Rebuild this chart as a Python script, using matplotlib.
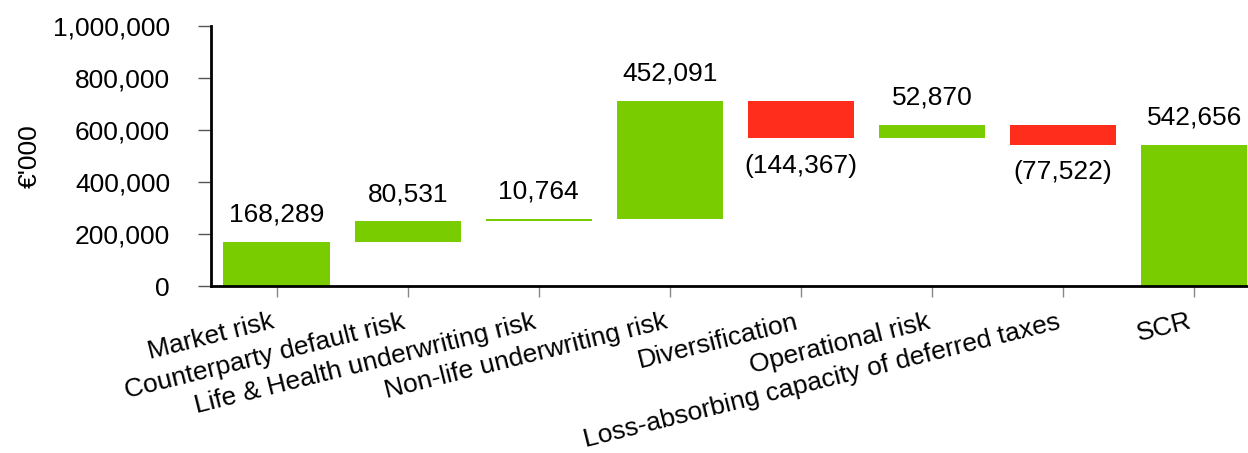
import numpy as np
import matplotlib
matplotlib.use('Agg')
import matplotlib.pyplot as plt
import matplotlib.transforms as mtransforms
from matplotlib.ticker import FuncFormatter

plt.rcParams['font.family'] = ['Liberation Sans', 'DejaVu Sans']

categories = ["Market risk", "Counterparty default risk", "Life & Health underwriting risk",
              "Non-life underwriting risk", "Diversification", "Operational risk",
              "Loss-absorbing capacity of deferred taxes", "SCR"]
values = [168289, 80531, 10764, 452091, -144367, 52870, -77522, 542656]
is_total = [False, False, False, False, False, False, False, True]

green = "#78cc00"
red = "#ff2d1c"

bottoms, heights, colors = [], [], []
running = 0
for v, tot in zip(values, is_total):
    if tot:
        bottoms.append(0)
        heights.append(v)
        colors.append(green)
        running = v
    else:
        start = running
        running += v
        bottoms.append(min(start, running))
        heights.append(abs(v))
        colors.append(green if v >= 0 else red)

x = np.arange(len(categories))

fig = plt.figure(figsize=(12.48, 4.53), dpi=100)
ax = fig.add_axes([211 / 1248, 1 - 286 / 453, 1 - 211 / 1248, 260 / 453])

ax.bar(x, heights, bottom=bottoms, width=0.81, color=colors, zorder=2)

fs = 19
for xi, v, b, h in zip(x, values, bottoms, heights):
    if v >= 0:
        ax.annotate(f"{v:,}", (xi, b + h), xytext=(0, 11), textcoords="offset points",
                    ha="center", va="bottom", fontsize=fs)
    else:
        ax.annotate(f"({abs(v):,})", (xi, b), xytext=(0, -11), textcoords="offset points",
                    ha="center", va="top", fontsize=fs)

ax.set_xlim(-0.5, 7.41)
ax.set_ylim(0, 1000000)
ax.set_yticks(np.arange(0, 1000001, 200000))
ax.yaxis.set_major_formatter(FuncFormatter(lambda v, p: f"{int(v):,}"))
ax.set_xticks(x)
ax.set_xticklabels(categories, rotation=14, ha="right", fontsize=fs)
shift = mtransforms.ScaledTranslation(5 / 100, 0, fig.dpi_scale_trans)
for lab in ax.get_xticklabels():
    lab.set_transform(lab.get_transform() + shift)
ax.tick_params(axis="y", labelsize=fs, length=9.5, width=1, color="#555555", pad=20)
ax.tick_params(axis="x", length=8, width=1, color="#888888", pad=9)
ax.set_ylabel("€'000", fontsize=fs, labelpad=8)

for s in ["top", "right"]:
    ax.spines[s].set_visible(False)
for s in ["left", "bottom"]:
    ax.spines[s].set_linewidth(2)
    ax.spines[s].set_color("black")

fig.savefig("out.png", dpi=100)
